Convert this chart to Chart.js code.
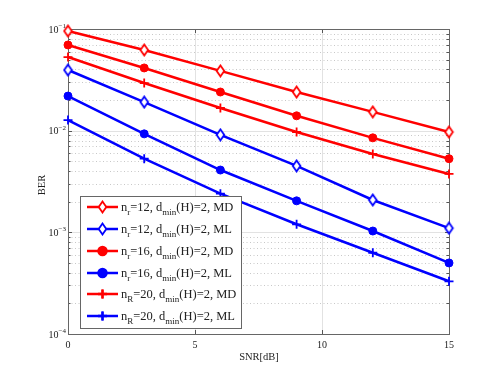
<!DOCTYPE html>
<html><head><meta charset="utf-8">
<script src="https://cdn.jsdelivr.net/npm/chart.js@4"></script>
<style>html,body{margin:0;padding:0;background:#fff}#c{display:block}</style>
</head><body>
<canvas id="c" width="491" height="377"></canvas>
<script>
const snr = [0, 3, 6, 9, 12, 15];
const xTicks = [0, 5, 10, 15];
const yDecades = [-4, -3, -2, -1];
const berR12MD = [0.0955, 0.0622, 0.0387, 0.0240, 0.0153, 0.0097];
const berR12ML = [0.0395, 0.0191, 0.0091, 0.0045, 0.00208, 0.0011];
const berR16MD = [0.0697, 0.0414, 0.0240, 0.0140, 0.0085, 0.0053];
const berR16ML = [0.0219, 0.0093, 0.0041, 0.00204, 0.00103, 0.0005];
const berR20MD = [0.0530, 0.0294, 0.0167, 0.0097, 0.0059, 0.00375];
const berR20ML = [0.0127, 0.0053, 0.0024, 0.0012, 0.00063, 0.00033];
const legendLabels = [
  ['n','r','=12, d','min','(H)=2, MD'],
  ['n','r','=12, d','min','(H)=2, ML'],
  ['n','r','=16, d','min','(H)=2, MD'],
  ['n','r','=16, d','min','(H)=2, ML'],
  ['n','R','=20, d','min','(H)=2, MD'],
  ['n','R','=20, d','min','(H)=2, ML']
];
const RED = '#ff0000', BLUE = '#0000ff';
const FONT = '"Liberation Serif", "Times New Roman", serif';

function diamond(color){
  const cv = document.createElement('canvas');
  cv.width = 11; cv.height = 14;
  const g = cv.getContext('2d');
  g.beginPath();
  g.moveTo(5.5,1.5); g.lineTo(9.3,7); g.lineTo(5.5,12.5); g.lineTo(1.7,7); g.closePath();
  g.fillStyle = '#fff'; g.fill();
  g.lineWidth = 1.8; g.strokeStyle = color; g.stroke();
  return cv;
}
const dR = diamond(RED), dB = diamond(BLUE);

function ds(data, color, style){
  const o = {data: snr.map((x,i)=>({x, y: data[i]})), borderColor: color, backgroundColor: color,
    borderWidth: 2.5, pointBorderWidth: 1, pointRadius: 5, pointHoverRadius: 5, tension: 0, clip: false};
  if (style === 'diamond') o.pointStyle = color === RED ? dR : dB;
  else if (style === 'circle') { o.pointStyle = 'circle'; o.pointRadius = 4; }
  else { o.pointStyle = 'cross'; o.pointRadius = 4.5; o.pointBorderWidth = 1.8; }
  o._style = style;
  return o;
}
const datasets = [
  ds(berR12MD, RED, 'diamond'), ds(berR12ML, BLUE, 'diamond'),
  ds(berR16MD, RED, 'circle'), ds(berR16ML, BLUE, 'circle'),
  ds(berR20MD, RED, 'cross'), ds(berR20ML, BLUE, 'cross')
];

const deco = {
  id: 'deco',
  beforeDatasetsDraw(chart){
    const {ctx, chartArea: a, scales:{x, y}} = chart;
    ctx.save();
    ctx.lineWidth = 1;
    for (const d of yDecades) {
      for (let m = 2; m <= 9; m++) {
        const v = m * Math.pow(10, d);
        if (v > 0.1) continue;
        const py = Math.round(y.getPixelForValue(v)) + 0.5;
        ctx.strokeStyle = '#c8c8c8'; ctx.setLineDash([1,2.5]);
        ctx.beginPath(); ctx.moveTo(a.left, py); ctx.lineTo(a.right, py); ctx.stroke();
        ctx.setLineDash([]); ctx.strokeStyle = '#555';
        ctx.beginPath(); ctx.moveTo(a.left, py); ctx.lineTo(a.left+2.5, py);
        ctx.moveTo(a.right, py); ctx.lineTo(a.right-2.5, py); ctx.stroke();
      }
    }
    ctx.setLineDash([]);
    ctx.strokeStyle = '#e2e2e2';
    for (const d of yDecades) {
      const py = Math.round(y.getPixelForValue(Math.pow(10,d))) + 0.5;
      ctx.beginPath(); ctx.moveTo(a.left, py); ctx.lineTo(a.right, py); ctx.stroke();
    }
    for (const t of xTicks) {
      const px = Math.round(x.getPixelForValue(t)) + 0.5;
      ctx.beginPath(); ctx.moveTo(px, a.top); ctx.lineTo(px, a.bottom); ctx.stroke();
    }
    ctx.strokeStyle = '#555';
    for (const d of yDecades) {
      const py = Math.round(y.getPixelForValue(Math.pow(10,d))) + 0.5;
      ctx.beginPath(); ctx.moveTo(a.left, py); ctx.lineTo(a.left+4, py);
      ctx.moveTo(a.right, py); ctx.lineTo(a.right-4, py); ctx.stroke();
    }
    for (const t of xTicks) {
      const px = Math.round(x.getPixelForValue(t)) + 0.5;
      ctx.beginPath(); ctx.moveTo(px, a.bottom); ctx.lineTo(px, a.bottom-4);
      ctx.moveTo(px, a.top); ctx.lineTo(px, a.top+4); ctx.stroke();
    }
    ctx.strokeStyle = '#666';
    ctx.strokeRect(Math.round(a.left)+0.5, Math.round(a.top)+0.5, Math.round(a.right-a.left), Math.round(a.bottom-a.top));
    ctx.fillStyle = '#222';
    ctx.textBaseline = 'middle';
    for (const d of yDecades) {
      const py = y.getPixelForValue(Math.pow(10,d));
      ctx.font = '7px ' + FONT;
      const sup = '\u2212' + (-d);
      const sw = ctx.measureText(sup).width;
      ctx.textAlign = 'right';
      ctx.fillText(sup, a.left - 2, py - 3);
      ctx.font = '10px ' + FONT;
      ctx.fillText('10', a.left - 2 - sw, py + 1);
    }
    ctx.textAlign = 'center';
    ctx.font = '10px ' + FONT;
    for (const t of xTicks) {
      ctx.fillText(String(t), x.getPixelForValue(t), a.bottom + 11);
    }
    ctx.font = '10.5px ' + FONT;
    ctx.fillText('SNR[dB]', (a.left + a.right)/2 + 0.5, a.bottom + 23);
    ctx.save();
    ctx.translate(42, 185); ctx.rotate(-Math.PI/2);
    ctx.fillText('BER', 0, 0);
    ctx.restore();
    ctx.restore();
  },
  afterDatasetsDraw(chart){
    const {ctx} = chart;
    ctx.save();
    const bx = 80.5, by = 196.5, bw = 161, bh = 132;
    ctx.fillStyle = '#fff'; ctx.fillRect(bx, by, bw, bh);
    ctx.strokeStyle = '#666'; ctx.lineWidth = 1; ctx.strokeRect(bx, by, bw, bh);
    const rows = [207, 229, 251, 273, 294, 316];
    chart.data.datasets.forEach((d, i) => {
      const ry = rows[i];
      ctx.strokeStyle = d.borderColor; ctx.lineWidth = 2.5;
      ctx.beginPath(); ctx.moveTo(87, ry); ctx.lineTo(118, ry); ctx.stroke();
      ctx.fillStyle = d.backgroundColor; ctx.strokeStyle = d.borderColor;
      Chart.helpers.drawPoint(ctx, {pointStyle: d.pointStyle, radius: d.pointRadius, borderWidth: d.pointBorderWidth, rotation: 0}, 102.5, ry);
      if (d._style === 'circle') {
        ctx.fillStyle = d.backgroundColor; ctx.beginPath(); ctx.arc(102.5, ry, 4.3, 0, Math.PI*2); ctx.fill();
      }
      if (d._style === 'cross') {
        ctx.strokeStyle = d.borderColor; ctx.lineWidth = 1.8;
        ctx.beginPath(); ctx.moveTo(102.5, ry-4.5); ctx.lineTo(102.5, ry+4.5); ctx.stroke();
      }
      const L = legendLabels[i];
      let tx = 121;
      ctx.fillStyle = '#222'; ctx.textAlign = 'left'; ctx.textBaseline = 'alphabetic';
      const big = '12.5px ' + FONT, small = '9px ' + FONT;
      const base = ry + 4;
      for (let k = 0; k < L.length; k++) {
        const isSub = k % 2 === 1;
        ctx.font = isSub ? small : big;
        ctx.fillText(L[k], tx, isSub ? base + 4 : base);
        tx += ctx.measureText(L[k]).width;
      }
    });
    ctx.restore();
  }
};

new Chart(document.getElementById('c'), {
  type: 'line',
  data: {datasets},
  options: {
    responsive: false, animation: false, devicePixelRatio: 1,
    layout: {padding: {left: 68, right: 42, top: 29, bottom: 43}},
    plugins: {legend: {display: false}, tooltip: {enabled: false}},
    scales: {
      x: {type: 'linear', min: 0, max: 15, display: false},
      y: {type: 'logarithmic', min: 1e-4, max: 1e-1, display: false}
    }
  },
  plugins: [deco]
});
</script>
</body></html>
